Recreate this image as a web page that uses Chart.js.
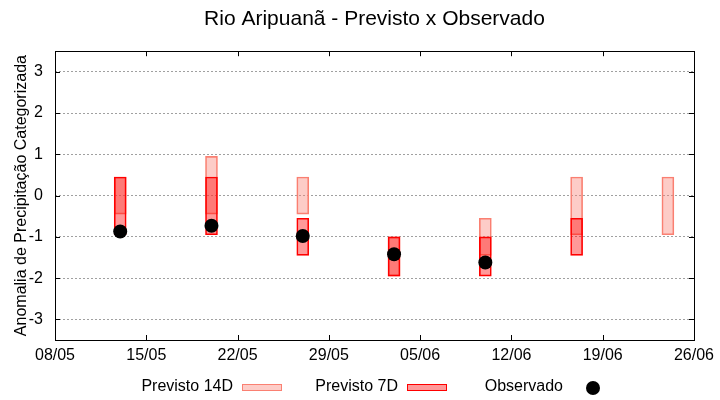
<!DOCTYPE html>
<html>
<head>
<meta charset="utf-8">
<script src="https://cdn.jsdelivr.net/npm/chart.js@4.4.1/dist/chart.umd.min.js"></script>
<style>
  html, body { margin: 0; padding: 0; background: #fff; }
  #wrap { width: 720px; height: 400px; }
</style>
</head>
<body>
<div id="wrap"><canvas id="chart"></canvas></div>
<script>
// data
const startDate = '08/05';
const xTickLabels = ['08/05', '15/05', '22/05', '29/05', '05/06', '12/06', '19/06', '26/06'];
const weeks = ['13/05', '20/05', '27/05', '03/06', '10/06', '17/06', '24/06'];
const prev14Low  = [-0.45, -0.45, -0.45, -1.95, -1.45, -0.95, -0.95];
const prev14High = [ 0.45,  0.95,  0.45, -1.0,  -0.55,  0.45,  0.45];
const prev7Low   = [-0.95, -0.95, -1.45, -1.95, -1.95, -1.45, null];
const prev7High  = [ 0.45,  0.45, -0.55, -1.0,  -1.0,  -0.55, null];
const observado  = [-0.87, -0.73, -0.98, -1.42, -1.62, null, null];
const yTicks = [-3, -2, -1, 0, 1, 2, 3];

const FONT = "'Liberation Sans', Arial, sans-serif";
const C14_FILL = 'rgba(250,128,114,0.4)', C14_LINE = '#FA8072';
const C7_FILL = 'rgba(255,0,0,0.4)', C7_LINE = '#FF0000';

// dd/mm -> days since startDate (same year)
function dayNum(s) {
    const [d, m] = s.split('/').map(Number);
    const [d0, m0] = startDate.split('/').map(Number);
    return (Date.UTC(2000, m - 1, d) - Date.UTC(2000, m0 - 1, d0)) / 86400000;
}
const xTickValues = xTickLabels.map(dayNum);

function rangeData(lo, hi) {
    return weeks.map((w, i) => lo[i] === null ? null : { x: dayNum(w), y: [lo[i], hi[i]] }).filter(Boolean);
}

// box with inward ticks on all four sides, like gnuplot
const framePlugin = {
    id: 'frame',
    afterDatasetsDraw(chart) {
        const { ctx, chartArea: a, scales } = chart;
        ctx.save();
        ctx.strokeStyle = '#000';
        ctx.lineWidth = 1;
        ctx.beginPath();
        xTickValues.forEach(v => {
            const px = Math.round(scales.x.getPixelForValue(v)) + 0.5;
            ctx.moveTo(px, a.bottom); ctx.lineTo(px, a.bottom - 5);
            ctx.moveTo(px, a.top); ctx.lineTo(px, a.top + 5);
        });
        yTicks.forEach(v => {
            const py = Math.round(scales.y.getPixelForValue(v)) + 0.5;
            ctx.moveTo(a.left, py); ctx.lineTo(a.left + 5, py);
            ctx.moveTo(a.right, py); ctx.lineTo(a.right - 5, py);
        });
        ctx.stroke();
        ctx.strokeRect(Math.round(a.left) + 0.5, Math.round(a.top) + 0.5,
            Math.round(a.right - a.left), Math.round(a.bottom - a.top));
        ctx.restore();
    }
};

// legend under the plot: text, then sample on its right
const keyPlugin = {
    id: 'key',
    afterDraw(chart) {
        const ctx = chart.ctx;
        const y = 387;
        const items = [
            { text: 'Previsto 14D', kind: 'box', fill: C14_FILL, line: C14_LINE },
            { text: 'Previsto 7D', kind: 'box', fill: C7_FILL, line: C7_LINE },
            { text: 'Observado', kind: 'dot' }
        ];
        ctx.save();
        ctx.font = '16px ' + FONT;
        ctx.textAlign = 'right';
        ctx.textBaseline = 'middle';
        items.forEach((it, i) => {
            const sx = 242 + 165 * i;
            ctx.fillStyle = '#000';
            ctx.fillText(it.text, sx - 9, y);
            if (it.kind === 'box') {
                ctx.fillStyle = it.fill;
                ctx.fillRect(sx, y - 3, 40, 6);
                ctx.strokeStyle = it.line;
                ctx.lineWidth = 1;
                ctx.strokeRect(sx + 0.5, y - 3 + 0.5, 39, 6);
            } else {
                ctx.beginPath();
                ctx.arc(sx + 21, y + 1, 7, 0, Math.PI * 2);
                ctx.fillStyle = '#000';
                ctx.fill();
            }
        });
        ctx.restore();
    }
};

new Chart(document.getElementById('chart'), {
    type: 'bar',
    data: {
        datasets: [
            {
                type: 'line',
                label: 'Observado',
                data: weeks.map((w, i) => observado[i] === null ? null : { x: dayNum(w), y: observado[i] }).filter(Boolean),
                showLine: false,
                pointRadius: 7,
                pointHoverRadius: 7,
                pointBackgroundColor: '#000',
                pointBorderColor: '#000',
                pointBorderWidth: 0,
                order: 0
            },
            {
                label: 'Previsto 7D',
                data: rangeData(prev7Low, prev7High),
                backgroundColor: C7_FILL,
                borderColor: C7_LINE,
                borderWidth: 1,
                borderSkipped: false,
                barThickness: 12,
                grouped: false,
                order: 1
            },
            {
                label: 'Previsto 14D',
                data: rangeData(prev14Low, prev14High),
                backgroundColor: C14_FILL,
                borderColor: C14_LINE,
                borderWidth: 1,
                borderSkipped: false,
                barThickness: 12,
                grouped: false,
                order: 2
            }
        ]
    },
    options: {
        responsive: true,
        maintainAspectRatio: false,
        animation: false,
        layout: {
            padding: { top: 0, right: 25, bottom: 0, left: 0 }
        },
        plugins: {
            legend: { display: false },
            tooltip: { enabled: false },
            title: {
                display: true,
                text: 'Rio Aripuanã - Previsto x Observado',
                fullSize: false,
                color: '#000',
                font: { size: 21, family: FONT, weight: 'normal' },
                padding: { top: 7, bottom: 19 }
            }
        },
        scales: {
            x: {
                type: 'linear',
                min: 0,
                max: 49,
                offset: false,
                afterBuildTicks(scale) {
                    scale.ticks = xTickValues.map(v => ({ value: v }));
                },
                afterFit(scale) {
                    scale.height = 60;
                },
                ticks: {
                    autoSkip: false,
                    maxRotation: 0,
                    padding: 6,
                    color: '#000',
                    font: { size: 16, family: FONT },
                    callback: (v) => xTickLabels[xTickValues.indexOf(v)] || ''
                },
                grid: { display: false, drawTicks: false },
                border: { display: false }
            },
            y: {
                min: -3.5,
                max: 3.5,
                afterBuildTicks(scale) {
                    scale.ticks = yTicks.map(v => ({ value: v }));
                },
                afterFit(scale) {
                    scale.width = 55;
                },
                ticks: {
                    padding: 12,
                    color: '#000',
                    font: { size: 16, family: FONT }
                },
                grid: {
                    color: '#a0a0a0',
                    lineWidth: 1,
                    drawTicks: false
                },
                border: { display: false, dash: [2, 2] },
                title: {
                    display: true,
                    text: 'Anomalia de Precipitação Categorizada',
                    color: '#000',
                    font: { size: 16, family: FONT },
                    padding: { top: 12, bottom: 0 }
                }
            }
        }
    },
    plugins: [framePlugin, keyPlugin]
});
</script>
</body>
</html>
